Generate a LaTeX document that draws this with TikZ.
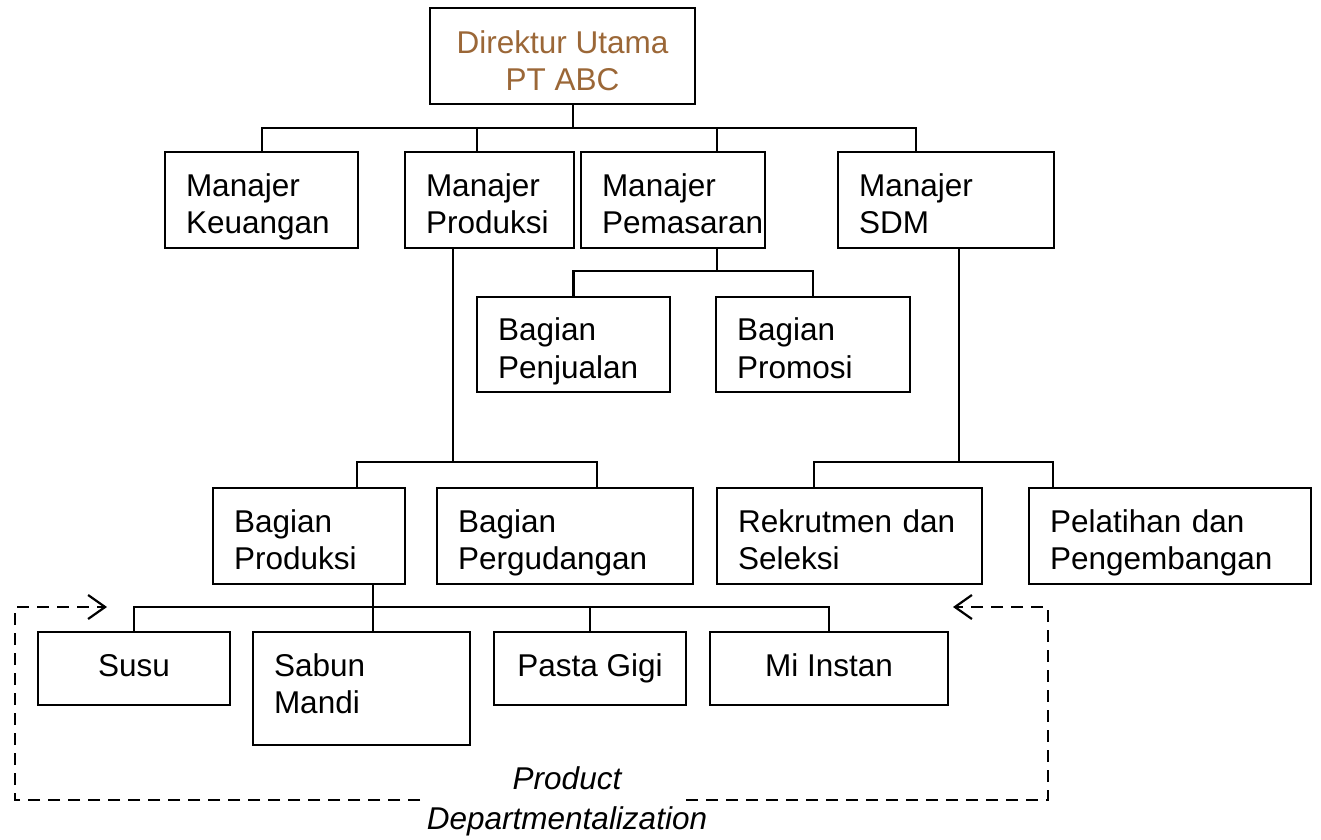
\documentclass[tikz,border=0pt]{standalone}
\usepackage{fontspec}
\setmainfont{Liberation Sans}
\usetikzlibrary{arrows.meta,calc}
\definecolor{dirbrown}{RGB}{155,103,55}
\begin{document}
\begin{tikzpicture}[x=1pt,y=-1pt,
  font=\fontsize{31.5}{37.8}\selectfont,
  box/.style={draw, line width=2.4pt, inner xsep=21pt, inner ysep=0pt, align=left,
    text height=37.8pt, text depth=45.8pt},
  cbox/.style={draw, line width=2.4pt, inner sep=0pt, align=center,
    text height=24pt, text depth=9pt},
  link/.style={line width=2.4pt},
  guide/.style={line width=2.2pt, dash pattern=on 12pt off 8pt},
  tip/.style={-{Straight Barb[length=17pt,width=24pt,line width=2.2pt]}}
]
\useasboundingbox (0,0) rectangle (1321,839);

% top of the hierarchy (two centred lines: the box baseline is the last line)
\node[cbox, minimum width=265pt, minimum height=96pt, text=dirbrown,
  text height=75.6pt, text depth=6pt] (dir) at (562.5,56) {Direktur Utama\\PT ABC};

% managers
\node[box, text width=151pt, minimum height=96pt] (keu)   at (261.5,200) {Manajer\\Keuangan};
\node[box, text width=127pt, minimum height=96pt] (mprod) at (489.5,200) {Manajer\\Produksi};
\node[box, text width=142pt, minimum height=96pt] (pem)   at (673,200)   {Manajer\\Pemasaran};
\node[box, text width=174pt, minimum height=96pt] (sdm)   at (946,200)   {Manajer\\SDM};

% marketing sections
\node[box, text width=151pt, minimum height=95pt] (penj) at (573.5,344.5) {Bagian\\Penjualan};
\node[box, text width=152pt, minimum height=95pt] (prom) at (813,344.5)   {Bagian\\Promosi};

% production and HR sections
\node[box, text width=150pt, minimum height=96pt] (bprod) at (309,536)    {Bagian\\Produksi};
\node[box, text width=214pt, minimum height=96pt] (gud)   at (565,536)    {Bagian\\Pergudangan};
\node[box, text width=223pt, minimum height=96pt] (rek)   at (849.5,536)  {Rekrutmen dan\\Seleksi};
\node[box, text width=240pt, minimum height=96pt] (pel)   at (1170,536)   {Pelatihan dan\\Pengembangan};

% product units
\node[cbox, minimum width=192pt, minimum height=73pt] (susu)  at (134,668.5) {Susu};
\node[box, text width=175pt, minimum height=113pt,
  text height=30pt, text depth=55pt] (sabun) at (361.5,688.5) {Sabun\\Mandi};
\node[cbox, minimum width=192pt, minimum height=73pt] (pasta) at (590,668.5) {Pasta Gigi};
\node[cbox, minimum width=238pt, minimum height=73pt] (mi)    at (829,668.5) {Mi Instan};

% bus levels
\coordinate (bus1) at (0,128);
\coordinate (bus2) at (0,271);
\coordinate (bus3) at (0,462);
\coordinate (bus4) at (0,607);

% director to managers
\coordinate (dirB)   at ($(dir.south west)+(144,0)$);
\coordinate (keuT)   at ($(keu.north west)+(98,0)$);
\coordinate (sdmT)   at ($(sdm.north west)+(79,0)$);
\coordinate (mprodT) at ($(mprod.north west)+(73,0)$);
\coordinate (pemT)   at ($(pem.north west)+(137,0)$);
\draw[link] (dirB) -- (dirB |- bus1);
\draw[link] (keuT) |- (bus1 -| sdmT) -- (sdmT);
\draw[link] (mprodT) -- (mprodT |- bus1);
\draw[link] (pemT) -- (pemT |- bus1);

% marketing branch
\coordinate (pemB) at ($(pem.south west)+(137,0)$);
\draw[link] (pemB) -- (pemB |- bus2);
\draw[link] (penj.north) |- (bus2 -| prom.north) -- (prom.north);

% production branch
\coordinate (mprodB) at ($(mprod.south west)+(49,0)$);
\coordinate (bprodT) at ($(bprod.north west)+(145,0)$);
\coordinate (gudT)   at ($(gud.north west)+(161,0)$);
\draw[link] (mprodB) -- (mprodB |- bus3);
\draw[link] (bprodT) |- (bus3 -| gudT) -- (gudT);

% HR branch
\coordinate (sdmB) at ($(sdm.south west)+(122,0)$);
\coordinate (rekT) at ($(rek.north west)+(98,0)$);
\coordinate (pelT) at ($(pel.north west)+(25,0)$);
\draw[link] (sdmB) -- (sdmB |- bus3);
\draw[link] (rekT) |- (bus3 -| pelT) -- (pelT);

% product units under Bagian Produksi
\coordinate (bprodB) at ($(bprod.south west)+(161,0)$);
\coordinate (sabunT) at ($(sabun.north west)+(121,0)$);
\draw[link] (bprodB) -- (bprodB |- bus4);
\draw[link] (susu.north) |- (bus4 -| mi.north) -- (mi.north);
\draw[link] (sabunT) -- (sabunT |- bus4);
\draw[link] (pasta.north) -- (pasta.north |- bus4);

% dashed frame with caption
\node[font=\fontsize{31.5}{40}\selectfont\itshape, align=center] (lbl) at (567,801) {Product\\Departmentalization};
\coordinate (gl)   at (420,800);
\coordinate (gr)   at (686,800);
\coordinate (cl)   at (15,800);
\coordinate (cr)   at (1048,800);
\coordinate (tipL) at (107,607);
\coordinate (tipR) at (953,607);
\draw[guide, tip] (gl) -- (cl) |- (tipL);
\draw[guide, tip] (gr) -- (cr) |- (tipR);
\end{tikzpicture}
\end{document}
